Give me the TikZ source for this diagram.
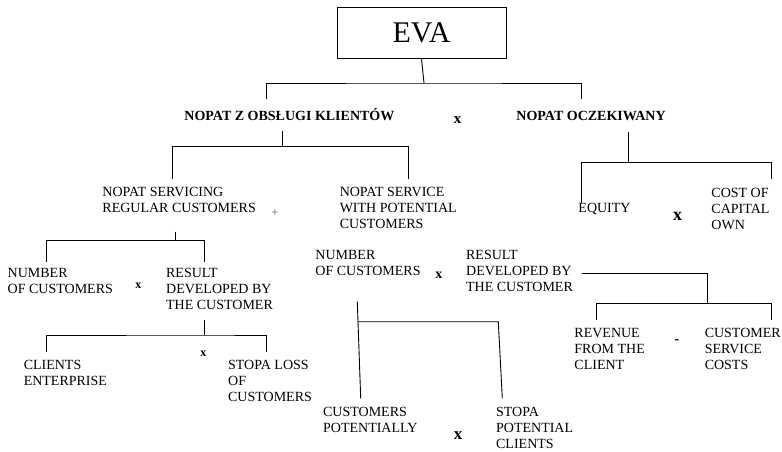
\documentclass[tikz,border=0pt]{standalone}
\usepackage{fontspec}
\setmainfont{Liberation Serif}
\begin{document}
\begin{tikzpicture}[x=1pt,y=-1pt,line width=0.9pt,
 lbl/.style={anchor=base west,inner sep=0pt,align=left,font=\fontsize{14}{16}\selectfont},
 blbl/.style={anchor=base west,inner sep=0pt,font=\fontsize{14}{16}\selectfont\bfseries},
 opx/.style={anchor=base west,inner sep=0pt,font=\fontsize{#1}{#1}\selectfont\bfseries},
 wire/.style={line width=0.9pt}]
\useasboundingbox (0,0) rectangle (782,452);
% root
\node[draw,line width=1pt,minimum width=169pt,minimum height=50.7pt,inner sep=0pt,
      font=\fontsize{30}{30}\selectfont] (eva) at (421.5,32.7) {EVA};
% level 1
\node[blbl] (t1) at (184,120) {NOPAT Z OBSŁUGI KLIENTÓW};
\node[opx=15] (x1) at (453.3,123) {x};
\node[blbl] (t2) at (516,120) {NOPAT OCZEKIWANY};
% level 2 (base = baseline of last line)
\node[lbl] (a1) at (102,212) {NOPAT SERVICING\\REGULAR CUSTOMERS};
\node[inner sep=0pt,font=\fontsize{12}{12}\selectfont,text=black!70] (plus) at (275,212.7) {+};
\node[lbl] (a2) at (339.3,228) {NOPAT SERVICE\\WITH POTENTIAL\\CUSTOMERS};
\node[lbl] (a3) at (578,212.6) {EQUITY};
\node[opx=18] (x2) at (672.7,220) {x};
\node[lbl] (a4) at (711,229.6) {COST OF\\CAPITAL\\OWN};
% level 3 left
\node[lbl] (b1) at (7.3,293.6) {NUMBER\\OF CUSTOMERS};
\node[opx=12] (x3) at (135,288.3) {x};
\node[lbl] (b2) at (165.7,309.6) {RESULT\\DEVELOPED BY\\THE CUSTOMER};
\node[lbl] (c1) at (23.3,385.3) {CLIENTS\\ENTERPRISE};
\node[opx=12] (x4) at (200,356.7) {x};
\node[lbl] (c2) at (227.7,401.3) {STOPA LOSS\\OF\\CUSTOMERS};
% level 3 centre
\node[lbl] (b3) at (315,275.3) {NUMBER\\OF CUSTOMERS};
\node[opx=14] (x5) at (435,278.3) {x};
\node[lbl] (b4) at (465.7,291.3) {RESULT\\DEVELOPED BY\\THE CUSTOMER};
\node[lbl] (c3) at (574,369.6) {REVENUE\\FROM THE\\CLIENT};
\node[inner sep=0pt,font=\fontsize{14}{14}\selectfont\bfseries] (minus) at (677,341.7) {-};
\node[lbl] (c4) at (704.3,369.6) {CUSTOMER\\SERVICE\\COSTS};
\node[lbl] (d1) at (322.7,432.6) {CUSTOMERS\\POTENTIALLY};
\node[opx=17] (x6) at (453.3,439.3) {x};
\node[lbl] (d2) at (495.7,448.6) {STOPA\\POTENTIAL\\CLIENTS};
% connector points
\coordinate (j0) at (424,83);
\coordinate (t1top) at (266.7,99);
\coordinate (t2top) at (581,99);
\coordinate (t1bot) at (282.7,130.7);
\coordinate (j1) at (282.7,146.7);
\coordinate (a1top) at (172,179);
\coordinate (a2top) at (408.3,179);
\coordinate (t2bot) at (628,131.7);
\coordinate (j2) at (628,162.7);
\coordinate (a3top) at (581.7,203);
\coordinate (a4top) at (771,179);
\coordinate (a1bot) at (175.7,231.7);
\coordinate (j3) at (175.7,240.7);
\coordinate (b1top) at (46.7,261.7);
\coordinate (b2top) at (204,261.7);
\coordinate (b2bot) at (204,320);
\coordinate (j4) at (204,335);
\coordinate (c1top) at (46.7,351.7);
\coordinate (c2top) at (266.7,351.7);
\coordinate (b4r) at (581.7,273.3);
\coordinate (j5) at (707.3,303.3);
\coordinate (c3top) at (596.7,320);
\coordinate (c4top) at (771,320);
\coordinate (b3bot) at (357.3,301.7);
\coordinate (j6) at (357.6,321.7);
\coordinate (j7) at (498.3,321.7);
\coordinate (d1top) at (360.7,398.3);
\coordinate (d2top) at (502.3,398.3);
% connectors
\draw[wire] (eva.south) -- (j0);
\draw[wire] (t1top) |- (j0) -| (t2top);
\draw[wire] (t1bot) -- (j1);
\draw[wire] (a1top) |- (j1) -| (a2top);
\draw[wire] (t2bot) -- (j2);
\draw[wire] (a3top) |- (j2) -| (a4top);
\draw[wire] (a1bot) -- (j3);
\draw[wire] (b1top) |- (j3) -| (b2top);
\draw[wire] (b2bot) -- (j4);
\draw[wire] (c1top) |- (j4) -| (c2top);
\draw[wire] (b4r) -| (j5);
\draw[wire] (c3top) |- (j5) -| (c4top);
\draw[wire] (b3bot) -- (d1top);
\draw[wire] (j6) -- (j7) -- (d2top);
\end{tikzpicture}
\end{document}
